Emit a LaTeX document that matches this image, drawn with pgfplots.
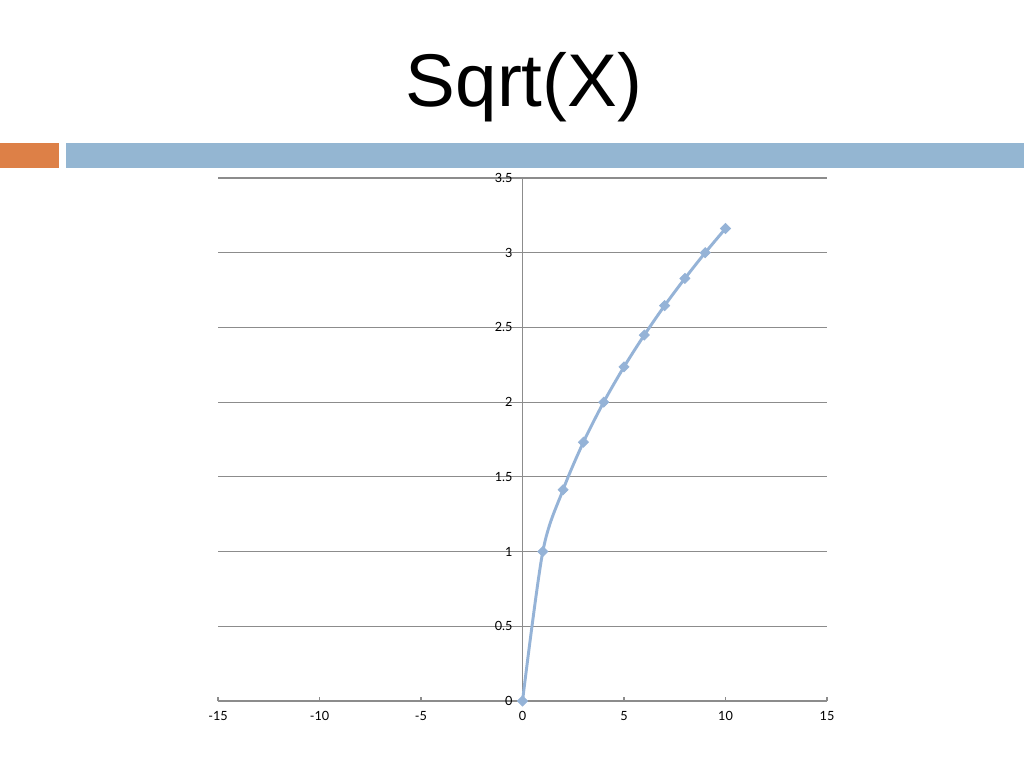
\documentclass[border=0pt]{standalone}
\usepackage{fontspec}
\setmainfont{Liberation Sans}
\newfontfamily\tickfont{Lato}
\usepackage{pgfplots}
\pgfplotsset{compat=1.18}

\definecolor{slideorange}{RGB}{221,128,71}
\definecolor{slideblue}{RGB}{148,182,210}
\definecolor{linecol}{RGB}{149,179,215}
\definecolor{gridgray}{RGB}{140,140,140}

\begin{document}
\begin{tikzpicture}
% slide frame: 1px = 0.75pt
\path[use as bounding box, fill=white] (0,0) rectangle (768pt,576pt);
\fill[slideorange] (0,450pt) rectangle (44.25pt,468.75pt);
\fill[slideblue] (49.5pt,450pt) rectangle (768pt,468.75pt);
\node[anchor=base, inner sep=0pt, font=\fontsize{56}{60}\selectfont] at (393pt,495.75pt) {Sqrt(X)};

\begin{axis}[
    at={(163.5pt,50.25pt)},
    anchor=south west,
    scale only axis,
    width=456.75pt,
    height=392.25pt,
    xmin=-15, xmax=15,
    ymin=0, ymax=3.5,
    axis x line=bottom,
    axis y line=middle,
    hide obscured x ticks=false,
    hide obscured y ticks=false,
    axis line style={gridgray, line width=0.9pt, -},
    xtick={-15,-10,-5,0,5,10,15},
    ytick={0,0.5,1,1.5,2,2.5,3,3.5},
    ymajorgrids,
    grid style={gridgray, line width=0.9pt},
    tick style={gridgray, line width=0.9pt},
    major tick length=3pt,
    tick align=inside,
    tick label style={font=\tickfont\fontsize{9.5}{11}\selectfont},
    /pgf/number format/assume math mode=true,
    yticklabel style={xshift=-4pt},
    xticklabel style={yshift=-4pt},
    clip=false
]
\addplot[smooth, color=linecol, line width=2.2pt, mark=square*,
    mark size=2.7pt, mark options={rotate=45, fill=linecol, draw=linecol, line width=0.5pt}]
coordinates {
(0,0) (1,1) (2,1.414) (3,1.732) (4,2) (5,2.236) (6,2.449)
(7,2.646) (8,2.828) (9,3) (10,3.162)
};
\end{axis}
\end{tikzpicture}
\end{document}
